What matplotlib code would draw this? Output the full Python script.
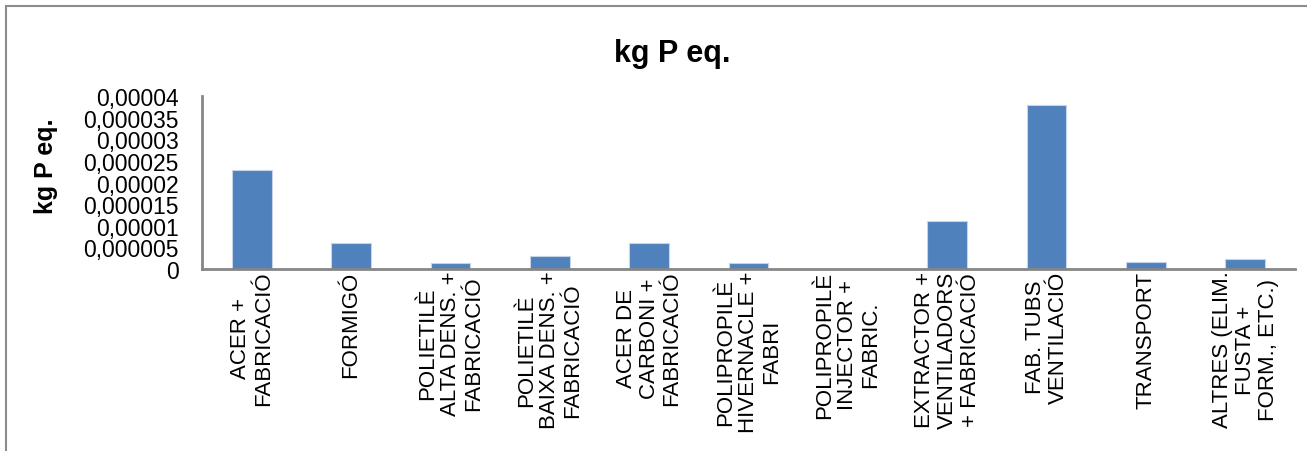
import numpy as np
import matplotlib.pyplot as plt
from matplotlib.patches import Rectangle

plt.rcParams['font.family'] = ['Liberation Sans', 'DejaVu Sans']

# categories and values (kg P eq.)
categories = [
    "ACER +\nFABRICACIÓ",
    "FORMIGÓ",
    "POLIETILÈ\nALTA DENS. +\nFABRICACIÓ",
    "POLIETILÈ\nBAIXA DENS. +\nFABRICACIÓ",
    "ACER DE\nCARBONI +\nFABRICACIÓ",
    "POLIPROPILÈ\nHIVERNACLE +\nFABRI",
    "POLIPROPILÈ\nINJECTOR +\nFABRIC.",
    "EXTRACTOR +\nVENTILADORS\n+ FABRICACIÓ",
    "FAB. TUBS\nVENTILACIÓ",
    "TRANSPORT",
    "ALTRES (ELIM.\nFUSTA +\nFORM., ETC.)",
]
values = [2.30e-5, 5.9e-6, 1.35e-6, 3.05e-6, 6.1e-6, 1.4e-6, 0.0,
          1.10e-5, 3.785e-5, 1.6e-6, 2.25e-6]
yticks = [0, 0.000005, 0.00001, 0.000015, 0.00002, 0.000025,
          0.00003, 0.000035, 0.00004]
ytick_labels = ["0", "0,000005", "0,00001", "0,000015", "0,00002",
                "0,000025", "0,00003", "0,000035", "0,00004"]

W, H = 1307, 452
fig = plt.figure(figsize=(W/100, H/100), dpi=100)

# outer chart border
fig.patches.append(Rectangle((6/W, -0.1), 1.2, (H-7)/H + 0.1,
                             transform=fig.transFigure, fill=False,
                             edgecolor='#8C8C8C', linewidth=1.5))

ax = fig.add_axes([202/W, 1-270/H, (1295-202)/W, (270-97)/H])
x = np.arange(len(categories))
ax.bar(x, values, width=0.4, color='#4F81BD', edgecolor='#C6D4EA', linewidth=0.8)

ax.set_xlim(-0.5, len(categories)-0.5)
ax.set_ylim(0, 0.00004)
ax.set_yticks(yticks)
ax.set_yticklabels(ytick_labels, fontsize=16.5)
ax.set_xticks(x)
ax.set_xticklabels(categories, rotation=90, fontsize=16, ha='center', va='top',
                   multialignment='center', linespacing=1.12)
ax.tick_params(axis='both', length=0)
ax.tick_params(axis='y', pad=17)
ax.tick_params(axis='x', pad=1)

for s in ['top', 'right']:
    ax.spines[s].set_visible(False)
for s in ['left', 'bottom']:
    ax.spines[s].set_color('#868686')
    ax.spines[s].set_linewidth(2)

fig.text(46/W, 1-166/H, "kg P eq.", rotation=90, fontsize=18, fontweight='bold',
         ha='center', va='center')
fig.text(672/W, 1-54/H, "kg P eq.", fontsize=22, fontweight='bold',
         ha='center', va='center')

fig.savefig('out.png', dpi=100)
